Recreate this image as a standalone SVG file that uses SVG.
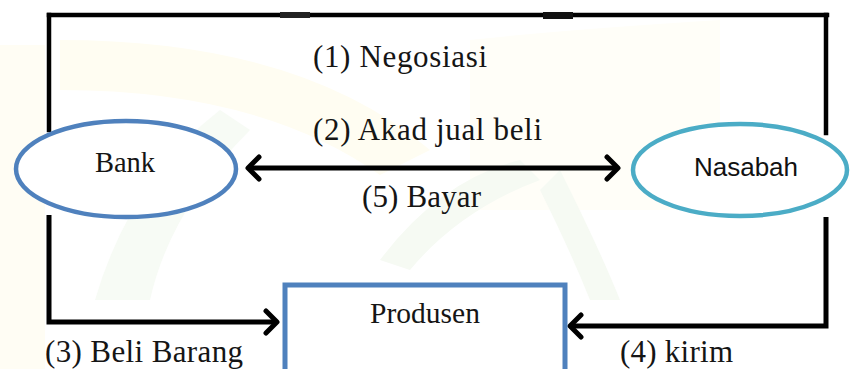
<svg xmlns="http://www.w3.org/2000/svg" width="850" height="369" viewBox="0 0 850 369">
  <style>
    .serif { font-family: "Liberation Serif", "Times New Roman", serif; fill: #151515; }
    .lbl { font-size: 31px; }
    .nodeTxt { font-size: 28.5px; }
    .sans { font-family: "Liberation Sans", Arial, sans-serif; fill: #111; }
    .wire { fill: none; stroke: #000; stroke-width: 4.5; stroke-linecap: square; stroke-linejoin: miter; }
    .arrow { fill: none; stroke: #000; stroke-width: 5; }
  </style>
  <defs>
    <marker id="head" markerUnits="userSpaceOnUse" markerWidth="20" markerHeight="28" refX="14" refY="14" orient="auto-start-reverse" viewBox="0 0 20 28">
      <path d="M3,3 L14,14 L3,25" fill="none" stroke="#000" stroke-width="5" stroke-linecap="round" stroke-linejoin="round"/>
    </marker>
  </defs>
  <rect width="850" height="369" fill="#ffffff"/>
  <g id="watermark">
    <rect x="0" y="45" width="45" height="324" fill="#fffdf4"/>
    <path d="M60,40 Q300,40 430,150 L380,175 Q260,90 60,90 Z" fill="#fffdf2"/>
    <path d="M470,40 Q560,30 720,20 L720,210 L470,210 Z" fill="#fffef8"/>
    <path d="M95,300 Q130,180 220,110 L250,130 Q170,210 150,300 Z" fill="#f7fbf5"/>
    <path d="M380,260 Q440,180 520,160 L540,180 Q460,210 410,270 Z" fill="#f6faf3"/>
    <path d="M560,170 Q600,250 620,300 L590,300 Q570,250 540,190 Z" fill="#f6faf3"/>
  </g>
  <g id="connectors">
    <path class="wire" d="M49,15 L827,15"/>
    <rect x="280" y="12" width="30" height="6" fill="#222"/>
    <rect x="543" y="12" width="30" height="7" fill="#111"/>
    <path class="wire" d="M49,15 L49,130"/>
    <path class="wire" d="M826,15 L826,133"/>
    <path class="arrow" d="M49,215 L49,322 L277,322" marker-end="url(#head)" stroke-linejoin="miter"/>
    <path class="arrow" d="M826,217 L826,326 L570,326" marker-end="url(#head)" stroke-linejoin="miter"/>
    <path class="arrow" d="M248,168 L618,168" marker-start="url(#head)" marker-end="url(#head)"/>
  </g>
  <g id="labels">
    <text class="serif lbl" x="313" y="67" textLength="174" lengthAdjust="spacing">(1) Negosiasi</text>
    <text class="serif lbl" x="313" y="140" textLength="229" lengthAdjust="spacing">(2) Akad jual beli</text>
    <text class="serif lbl" x="362" y="207" textLength="119" lengthAdjust="spacing">(5) Bayar</text>
    <text class="serif lbl" x="45" y="362" textLength="198" lengthAdjust="spacing">(3) Beli Barang</text>
    <text class="serif lbl" x="620" y="362" textLength="113" lengthAdjust="spacing">(4) kirim</text>
  </g>
  <g id="bank">
    <ellipse cx="126" cy="169" rx="110" ry="48" fill="#ffffff" stroke="#4f81bd" stroke-width="4.5"/>
    <text class="serif nodeTxt" x="125" y="172" text-anchor="middle">Bank</text>
  </g>
  <g id="nasabah">
    <ellipse cx="740" cy="170" rx="107" ry="46" fill="#ffffff" stroke="#4bacc6" stroke-width="4.5"/>
    <text class="sans" font-size="26" x="746" y="176" text-anchor="middle">Nasabah</text>
  </g>
  <g id="produsen">
    <rect x="285" y="285" width="280" height="95" fill="#ffffff" stroke="#4f81bd" stroke-width="5"/>
    <text class="serif" font-size="29.5" x="425" y="323" text-anchor="middle">Produsen</text>
  </g>
</svg>
